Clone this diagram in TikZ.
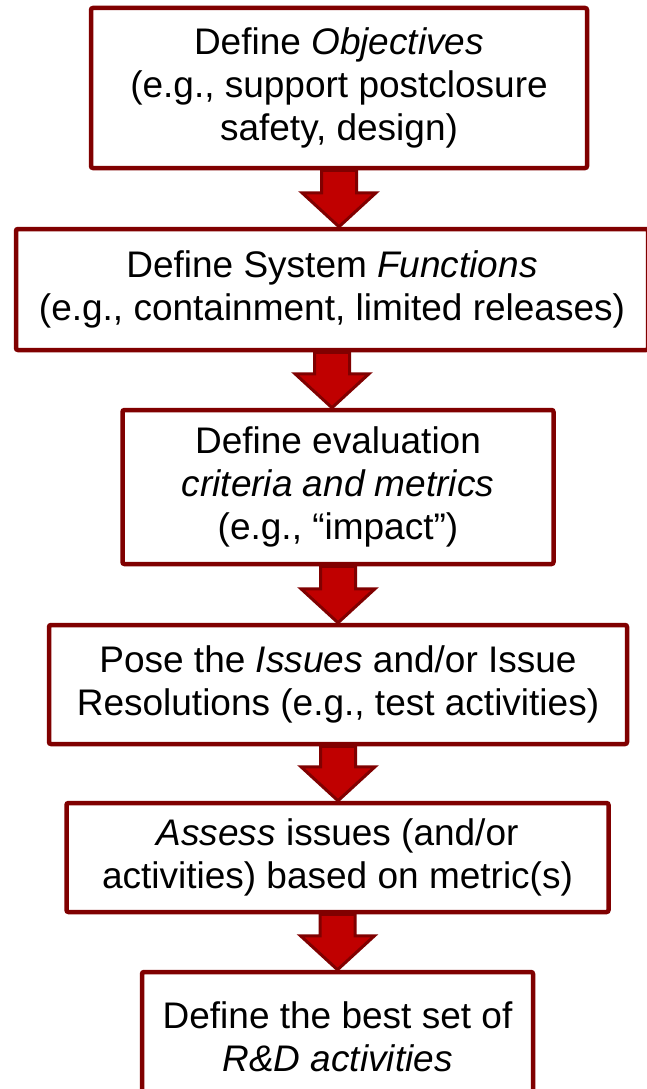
\documentclass[tikz,border=0pt]{standalone}
\usepackage{fontspec}
\setmainfont{Liberation Sans}
\usetikzlibrary{calc}

\definecolor{boxred}{RGB}{128,0,0}
\definecolor{arrowred}{RGB}{192,0,0}

\tikzset{
  stepbox/.style={draw=boxred, line width=4.5pt, rounded corners=2pt, fill=white,
    align=center, inner sep=0pt, font=\fontsize{37}{43}\selectfont},
  flowarr/.style={draw=boxred, fill=arrowred, line width=3pt, line join=miter}
}

% fat down arrow from one box to the next
\newcommand{\flowarrow}[2]{%
  \draw[flowarr] let \p1=(#1.south), \p2=(#2.north) in
    (\x1-17.5pt,\y1) -- (\x1+17.5pt,\y1) -- (\x1+17.5pt,\y2+34pt) -- (\x1+37pt,\y2+34pt)
    -- (\x1,\y2) -- (\x1-37pt,\y2+34pt) -- (\x1-17.5pt,\y2+34pt) -- cycle;}

\begin{document}
\begin{tikzpicture}
\useasboundingbox (0,0) rectangle (647pt,-1089pt);

\node[stepbox, minimum width=496pt, minimum height=160pt] (objectives) at (339pt,-88pt)
  {Define \textit{Objectives}\\(e.g., support postclosure\\safety, design)};
\node[stepbox, minimum width=632pt, minimum height=121pt] (functions) at (332pt,-289.5pt)
  {Define System \textit{Functions}\\(e.g., containment, limited releases)};
\node[stepbox, minimum width=431pt, minimum height=154pt] (criteria) at (338pt,-487pt)
  {Define evaluation\\\textit{criteria and metrics}\\(e.g., “impact”)};
\node[stepbox, minimum width=578pt, minimum height=119pt] (issues) at (338pt,-684.5pt)
  {Pose the \textit{Issues} and/or Issue\\Resolutions (e.g., test activities)};
\node[stepbox, minimum width=542pt, minimum height=109pt] (assess) at (337.5pt,-857.5pt)
  {\textit{Assess} issues (and/or\\activities) based on metric(s)};
\node[stepbox, minimum width=391pt, minimum height=130pt] (activities) at (337.5pt,-1037pt)
  {Define the best set of\\\textit{R\&D activities}};

\flowarrow{objectives}{functions}
\flowarrow{functions}{criteria}
\flowarrow{criteria}{issues}
\flowarrow{issues}{assess}
\flowarrow{assess}{activities}

\end{tikzpicture}
\end{document}
